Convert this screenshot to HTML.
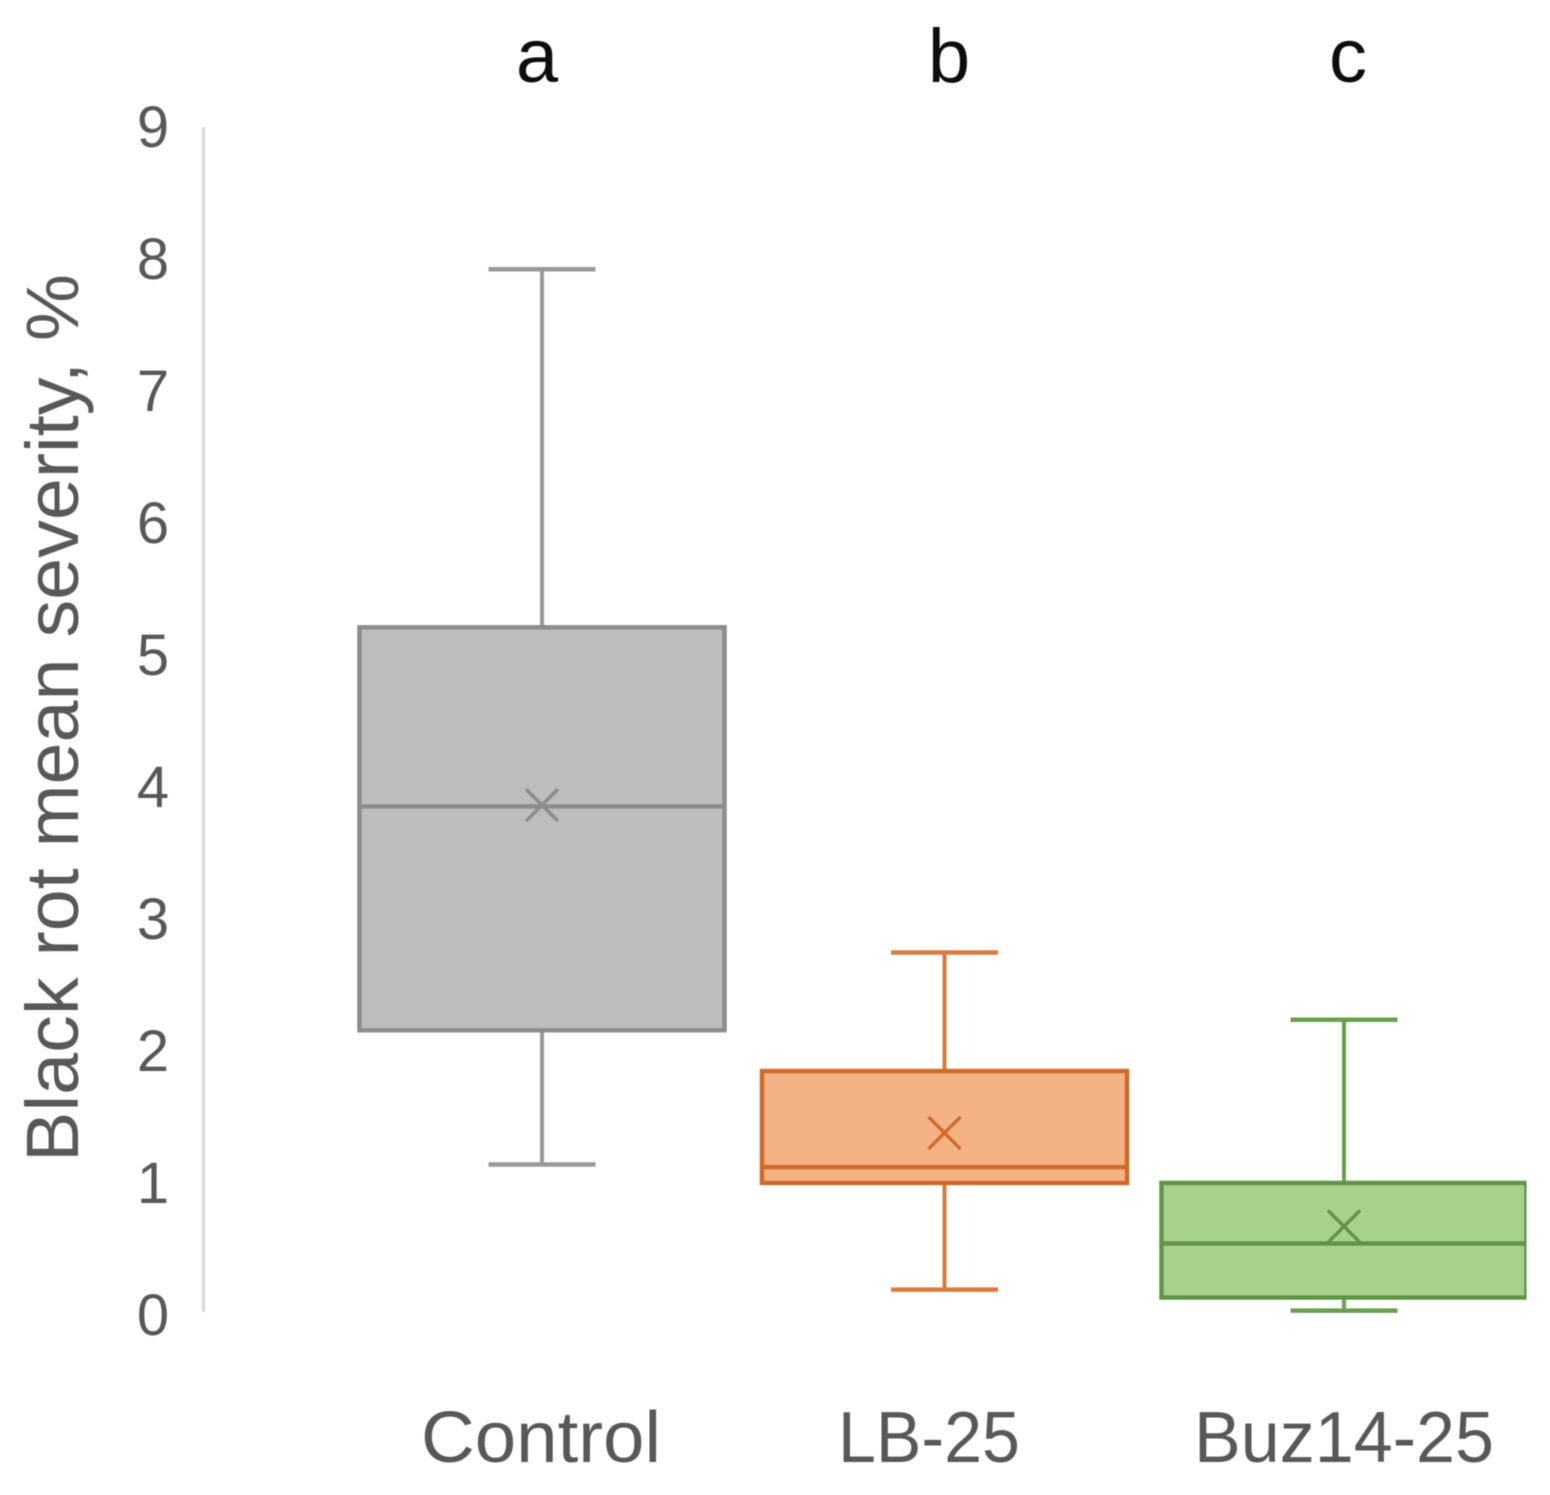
<!DOCTYPE html>
<html lang="en">
<head>
<meta charset="utf-8">
<title>Black rot mean severity</title>
<style>
html,body{margin:0;padding:0;background:#fff;width:1550px;height:1495px;overflow:hidden}
svg{display:block;font-family:"Liberation Sans",sans-serif}
</style>
</head>
<body>
<svg id="chart" xmlns="http://www.w3.org/2000/svg" width="1550" height="1495" viewBox="0 0 1550 1495">
  <defs>
    <filter id="soften" x="0" y="0" width="100%" height="100%"><feGaussianBlur stdDeviation="0.6"/></filter>
  </defs>
  <g filter="url(#soften)">
    <text transform="translate(78,718) rotate(-90)" text-anchor="middle" font-size="74" fill="#595959" textLength="888" lengthAdjust="spacingAndGlyphs">Black rot mean severity, %</text>
    <line x1="203.5" x2="203.5" y1="127" y2="1312" stroke="#dcdcdc" stroke-width="3.5"/>
    <g id="marks"></g>
  </g>
</svg>
<script>
const categories = ["Control", "LB-25", "Buz14-25"];
const significance = ["a", "b", "c"];
const whiskerHigh = [7.92, 2.73, 2.22];
const q3 = [5.20, 1.83, 0.98];
const median = [3.84, 1.10, 0.52];
const mean = [3.85, 1.36, 0.65];
const q1 = [2.14, 0.98, 0.11];
const whiskerLow = [1.12, 0.17, 0.01];
const yTicks = [0, 1, 2, 3, 4, 5, 6, 7, 8, 9];
const fills = ["#bdbdbd", "#f4b183", "#a9d18e"];
const strokes = ["#8c8c8c", "#cf6a26", "#5f9544"];
const whiskerStrokes = ["#999999", "#d97a3c", "#68a04e"];

const NS = "http://www.w3.org/2000/svg";
const marks = document.getElementById("marks");
function yScale(v) { return 1312 - v * (1312 - 127) / 9; }
function tickLabelY(t) { return 1335 - t * 132; }
function xScale(i) { return [542, 944.5, 1344][i]; }
function make(tag, attrs, parent) {
  const el = document.createElementNS(NS, tag);
  for (const k in attrs) el.setAttribute(k, attrs[k]);
  (parent || marks).appendChild(el);
  return el;
}

yTicks.forEach(function (t) {
  const el = make("text", { x: 153, y: tickLabelY(t), "text-anchor": "middle", "font-size": 58, fill: "#595959" });
  
  
  el.textContent = t;
});

categories.forEach(function (cat, i) {
  const cx = xScale(i);
  const boxW = 365, capW = 107;
  const g = make("g", {});
  
  

  const upper = make("line", { x1: cx, x2: cx, y1: yScale(whiskerHigh[i]), y2: yScale(q3[i]), stroke: whiskerStrokes[i], "stroke-width": 4 }, g);
  
  
  const lower = make("line", { x1: cx, x2: cx, y1: yScale(q1[i]), y2: yScale(whiskerLow[i]), stroke: whiskerStrokes[i], "stroke-width": 4 }, g);
  
  
  const capHigh = make("line", { x1: cx - capW / 2, x2: cx + capW / 2, y1: yScale(whiskerHigh[i]), y2: yScale(whiskerHigh[i]), stroke: whiskerStrokes[i], "stroke-width": 4.5 }, g);
  
  
  const capLow = make("line", { x1: cx - capW / 2, x2: cx + capW / 2, y1: yScale(whiskerLow[i]), y2: yScale(whiskerLow[i]), stroke: whiskerStrokes[i], "stroke-width": 4.5 }, g);
  
  

  const box = make("rect", { x: cx - boxW / 2, y: yScale(q3[i]), width: boxW, height: yScale(q1[i]) - yScale(q3[i]), fill: fills[i], stroke: strokes[i], "stroke-width": 4.5 }, g);
  
  

  const med = make("line", { x1: cx - boxW / 2, x2: cx + boxW / 2, y1: yScale(median[i]), y2: yScale(median[i]), stroke: strokes[i], "stroke-width": 4.5 }, g);
  
  

  const my = yScale(mean[i]), r = 16;
  const meanMark = make("path", { d: "M" + (cx - r) + " " + (my - r) + "L" + (cx + r) + " " + (my + r) + "M" + (cx + r) + " " + (my - r) + "L" + (cx - r) + " " + (my + r), fill: "none", stroke: strokes[i], "stroke-width": 3.5 }, g);
  
  

  const letterX = [537, 949, 1348][i];
  const letter = make("text", { x: letterX, y: 82, "text-anchor": "middle", "font-size": 76, fill: "#111111" });
  
  
  letter.textContent = significance[i];

  const labelX = [541, 929, 1344][i];
  const labelW = [240, 182, 300][i];
  const label = make("text", { x: labelX, y: 1462, "text-anchor": "middle", "font-size": 72, fill: "#595959", textLength: labelW, lengthAdjust: "spacingAndGlyphs" });
  
  
  label.textContent = cat;
});
</script>
</body>
</html>
